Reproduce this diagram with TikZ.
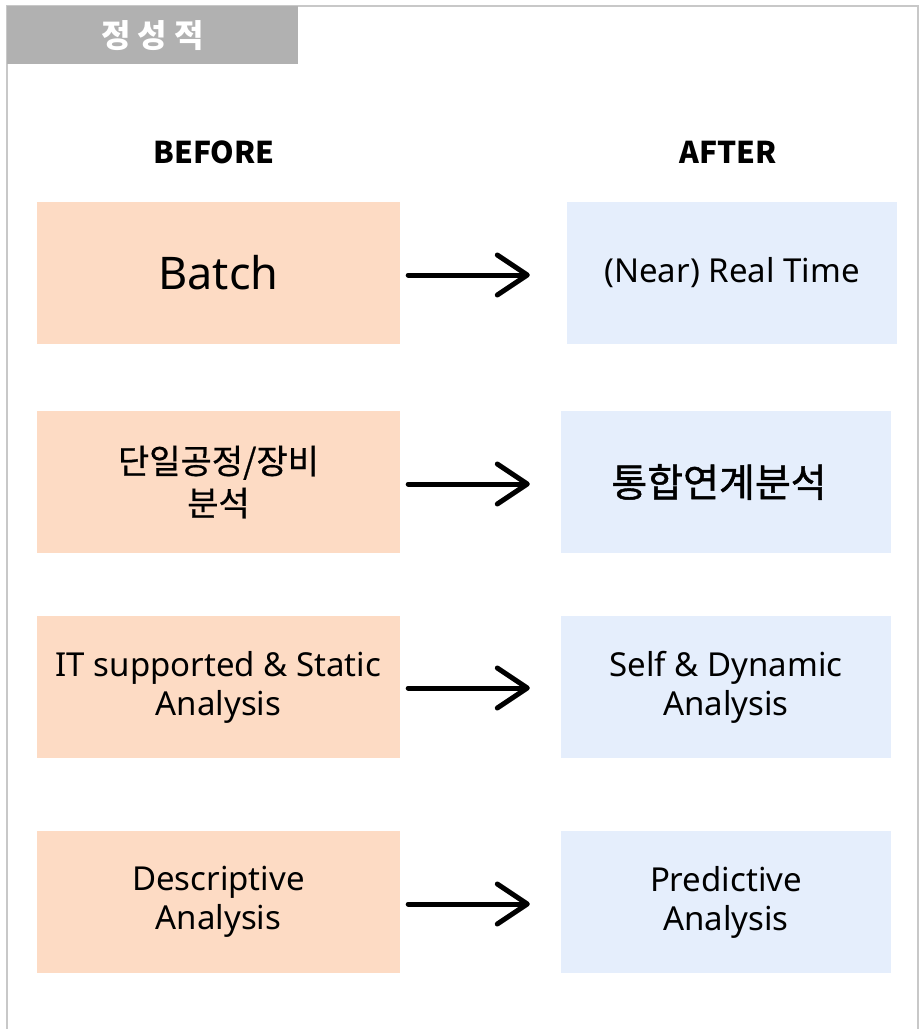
\documentclass[tikz,border=0pt]{standalone}
\usepackage{fontspec}
\setmainfont{Noto Sans}
\newfontfamily\kr{Noto Sans CJK KR}
\newfontfamily\krm[FakeBold=0.6]{Noto Sans CJK KR}
\newfontfamily\krs[FakeBold=1.2]{Noto Sans CJK KR}
\usetikzlibrary{arrows.meta}
\definecolor{peach}{HTML}{FDDBC4}
\definecolor{lblue}{HTML}{E5EEFC}
\definecolor{hdr}{HTML}{B1B1B1}
\definecolor{frame}{HTML}{C8C8C8}
\begin{document}
\begin{tikzpicture}[x=1pt,y=-1pt,
  before/.style={fill=peach,draw=none,minimum width=363pt,minimum height=142pt,inner sep=0pt,align=center,font=\fontsize{33}{39}\selectfont},
  after/.style={fill=lblue,draw=none,minimum width=330pt,minimum height=142pt,inner sep=0pt,align=center,font=\fontsize{33}{39}\selectfont},
  flow/.style={line width=5pt,line cap=round,-{Straight Barb[length=30pt,width=40pt,line width=5pt,round]},shorten <=8pt}
]
\useasboundingbox (0,0) rectangle (920,1029);
\fill[white] (0,0) rectangle (920,1029);
\draw[frame,line width=2pt] (7,1029) -- (7,6) -- (918,6) -- (918,1029);
\node[fill=hdr,minimum width=291pt,minimum height=58pt,inner sep=0pt,anchor=north west,text=white,font=\kr\bfseries\fontsize{32}{33}\selectfont] (hdr) at (7,6) {정\hspace{7pt}성\hspace{7pt}적};
\node[font=\kr\bfseries\fontsize{30}{32}\selectfont] (bef) at (214,152) {BEFORE};
\node[font=\kr\bfseries\fontsize{30}{32}\selectfont] (aft) at (728,152) {AFTER};

\node[before,font=\fontsize{45}{48}\selectfont] (L1) at (218.5,273) {Batch};
\node[after] (R1) at (732,273) {(Near) Real Time};
\node[before,font=\krm\fontsize{34}{42}\selectfont] (L2) at (218.5,482) {단일공정/장비\\분석};
\node[after,font=\krs\fontsize{39}{42}\selectfont] (R2) at (726,482) {통합연계분석\hspace*{14pt}};
\node[before] (L3) at (218.5,687) {IT supported \& Static\\Analysis};
\node[after] (R3) at (726,687) {Self \& Dynamic\\Analysis};
\node[before] (L4) at (218.5,902) {Descriptive\\Analysis};
\node[after] (R4) at (726,902) {Predictive\\Analysis};

\draw[flow,shorten >=37pt] ([yshift=-2pt]L1.east) -- ([yshift=-2pt]R1.west);
\draw[flow,shorten >=31pt] ([yshift=-2pt]L2.east) -- ([yshift=-2pt]R2.west);
\draw[flow,shorten >=31pt] ([yshift=-1pt]L3.east) -- ([yshift=-1pt]R3.west);
\draw[flow,shorten >=31pt] ([yshift=-2pt]L4.east) -- ([yshift=-2pt]R4.west);
\end{tikzpicture}
\end{document}
